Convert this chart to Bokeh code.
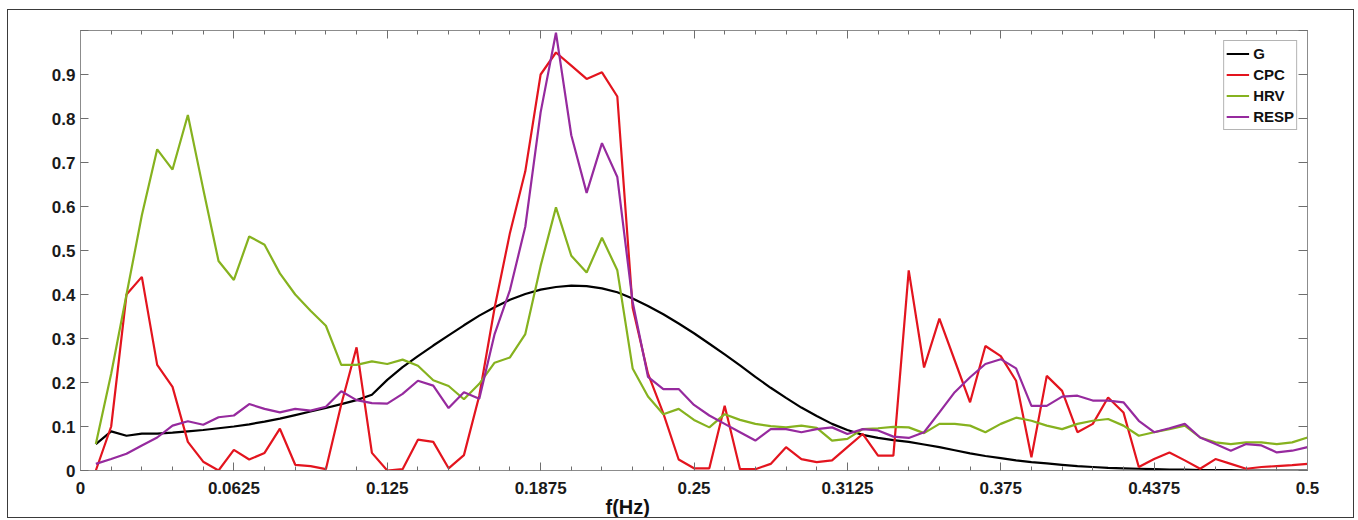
from bokeh.plotting import figure
from bokeh.models import (LinearAxis, FixedTicker, Legend, LegendItem, Title,
                          Range1d)
from bokeh.embed import file_html
from bokeh.resources import INLINE

# frequency grid (Hz), one bin every 1/160 Hz
freq = [round(0.00625 * k, 5) for k in range(1, 81)]

G = [0.06, 0.089, 0.079, 0.084, 0.084, 0.086, 0.089, 0.092, 0.096, 0.10,
     0.105, 0.111, 0.118, 0.126, 0.134, 0.142, 0.151, 0.160, 0.172, 0.206,
     0.235, 0.26, 0.284, 0.307, 0.33, 0.352, 0.371, 0.388, 0.401, 0.411,
     0.417, 0.42, 0.419, 0.414, 0.405, 0.391, 0.374, 0.355, 0.334, 0.312,
     0.288, 0.264, 0.239, 0.213, 0.188, 0.165, 0.143, 0.124, 0.106, 0.092,
     0.081, 0.074, 0.069, 0.065, 0.059, 0.053, 0.046, 0.039, 0.033, 0.028,
     0.023, 0.019, 0.016, 0.013, 0.01, 0.008, 0.006, 0.005, 0.004, 0.003,
     0.002, 0.002, 0.001, 0.001, 0.001, 0.0, 0.0, 0.0, 0.0, 0.0]

CPC = [0.0, 0.10, 0.40, 0.44, 0.24, 0.19, 0.065, 0.02, 0.0, 0.047,
       0.025, 0.04, 0.095, 0.013, 0.01, 0.003, 0.15, 0.28, 0.04, 0.0,
       0.003, 0.07, 0.065, 0.005, 0.035, 0.17, 0.37, 0.54, 0.68, 0.90,
       0.95, 0.92, 0.89, 0.905, 0.85, 0.37, 0.22, 0.13, 0.025, 0.005,
       0.005, 0.147, 0.003, 0.003, 0.015, 0.053, 0.026, 0.019, 0.023, 0.053,
       0.083, 0.034, 0.034, 0.455, 0.234, 0.345, 0.25, 0.155, 0.283, 0.26,
       0.204, 0.03, 0.215, 0.181, 0.087, 0.106, 0.166, 0.132, 0.008, 0.026,
       0.041, 0.023, 0.004, 0.026, 0.015, 0.004, 0.008, 0.01, 0.012, 0.015]

HRV = [0.06, 0.22, 0.40, 0.58, 0.73, 0.684, 0.808, 0.64, 0.476, 0.433,
       0.532, 0.513, 0.448, 0.40, 0.363, 0.329, 0.24, 0.24, 0.248, 0.242,
       0.252, 0.238, 0.205, 0.192, 0.162, 0.197, 0.245, 0.257, 0.31, 0.465,
       0.598, 0.488, 0.45, 0.529, 0.455, 0.232, 0.168, 0.128, 0.14, 0.115,
       0.098, 0.128, 0.115, 0.106, 0.101, 0.098, 0.102, 0.097, 0.068, 0.072,
       0.094, 0.096, 0.099, 0.098, 0.085, 0.106, 0.106, 0.102, 0.087, 0.106,
       0.12, 0.113, 0.102, 0.094, 0.106, 0.113, 0.117, 0.102, 0.079, 0.087,
       0.094, 0.102, 0.075, 0.064, 0.06, 0.064, 0.064, 0.06, 0.064, 0.075]

RESP = [0.015, 0.026, 0.038, 0.057, 0.075, 0.102, 0.112, 0.104, 0.121, 0.125,
        0.151, 0.14, 0.132, 0.14, 0.136, 0.145, 0.18, 0.16, 0.153, 0.152,
        0.174, 0.204, 0.193, 0.142, 0.178, 0.163, 0.31, 0.41, 0.554, 0.814,
        0.995, 0.762, 0.631, 0.744, 0.667, 0.383, 0.213, 0.185, 0.185, 0.149,
        0.125, 0.106, 0.087, 0.068, 0.094, 0.094, 0.087, 0.094, 0.098, 0.083,
        0.094, 0.091, 0.077, 0.074, 0.087, 0.132, 0.178, 0.212, 0.242, 0.253,
        0.232, 0.147, 0.147, 0.168, 0.17, 0.159, 0.159, 0.155, 0.113, 0.087,
        0.096, 0.106, 0.075, 0.06, 0.045, 0.06, 0.057, 0.041, 0.045, 0.053]

x_ticks = [0, 0.0625, 0.125, 0.1875, 0.25, 0.3125, 0.375, 0.4375, 0.5]
x_labels = ["0", "0.0625", "0.125", "0.1875", "0.25", "0.3125", "0.375", "0.4375", "0.5"]
y_ticks = [0, 0.1, 0.2, 0.3, 0.4, 0.5, 0.6, 0.7, 0.8, 0.9]
y_labels = ["0", "0.1", "0.2", "0.3", "0.4", "0.5", "0.6", "0.7", "0.8", "0.9"]

series = [("G", G, "#000000"), ("CPC", CPC, "#e3141e"),
          ("HRV", HRV, "#86b21f"), ("RESP", RESP, "#962a9e")]

FONT = "Liberation Sans"
AX = "#8c8c8c"

p = figure(width=1347, height=509, output_backend="svg", toolbar_location=None,
           x_range=Range1d(0, 0.5), y_range=Range1d(0, 1.0),
           x_axis_location=None, y_axis_location=None,
           min_border_left=72, min_border_right=48, min_border_top=20,
           min_border_bottom=49)
p.styles = {"border": "1px solid #3a3a3a", "margin-left": "7px",
            "margin-top": "9px"}
p.grid.visible = False
p.outline_line_color = AX
p.outline_line_width = 1
p.background_fill_color = "white"
p.border_fill_color = "white"

minor = [round(0.0125 * i, 5) for i in range(0, 41)]
xt = FixedTicker(ticks=x_ticks, minor_ticks=minor)
yt = FixedTicker(ticks=y_ticks + [1.0])


def style_axis(ax, tick_in, show_labels):
    ax.axis_line_color = AX
    ax.major_tick_line_color = "#6e6e6e"
    ax.minor_tick_line_color = "#6e6e6e"
    ax.major_tick_in = tick_in
    ax.major_tick_out = 0
    ax.minor_tick_in = 4
    ax.minor_tick_out = 0
    ax.major_label_text_font = FONT
    ax.major_label_text_font_style = "bold"
    ax.major_label_text_font_size = "17px"
    ax.major_label_text_color = "#1a1a1a" if show_labels else None


bottom = LinearAxis(ticker=xt, major_label_overrides={(0 if t == 0 else t): l for t, l in zip(x_ticks, x_labels)})
style_axis(bottom, 8, True)
bottom.major_label_standoff = 11
p.add_layout(bottom, "below")

top = LinearAxis(ticker=xt)
style_axis(top, 8, False)
p.add_layout(top, "above")

ylab = {(0 if t == 0 else t): l for t, l in zip(y_ticks, y_labels)}
ylab[1.0] = ""
left = LinearAxis(ticker=yt, major_label_overrides=ylab)
style_axis(left, 8, True)
left.minor_tick_line_color = None
left.major_label_standoff = 5
p.add_layout(left, "left")

right = LinearAxis(ticker=yt)
style_axis(right, 9, False)
right.minor_tick_line_color = None
p.add_layout(right, "right")

items = []
for name, vals, col in series:
    r = p.line(freq, vals, line_color=col, line_width=2.2)
    items.append(LegendItem(label=name, renderers=[r]))

legend = Legend(items=items, location="top_right", margin=10,
                padding=2, spacing=0, label_height=21, glyph_height=21,
                glyph_width=23, label_standoff=4,
                label_text_font=FONT, label_text_font_style="bold",
                label_text_font_size="15px", label_text_color="#111111",
                border_line_color="#6a6a6a", border_line_width=1,
                background_fill_color="white", background_fill_alpha=1.0)
p.add_layout(legend)

xlabel = Title(text="f(Hz)", align="left", offset=525, standoff=-5,
               text_font=FONT, text_font_style="bold", text_font_size="20px",
               text_color="#111111")
p.add_layout(xlabel, "below")

open("out.html", "w").write(file_html(p, INLINE))
